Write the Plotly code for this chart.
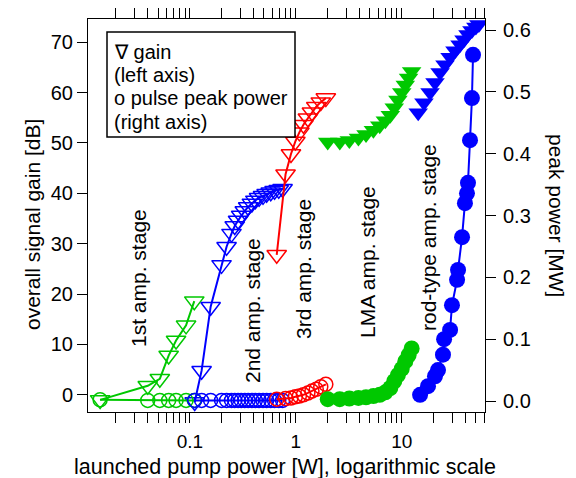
import plotly.graph_objects as go

# ---------------- data ----------------
GREEN = "#00c800"
BLUE = "#0000ff"
RED = "#ff0000"

# 1st amplifier stage (pump W, gain dB, peak power MW)
s1_pump = [0.0142, 0.040, 0.052, 0.063, 0.074, 0.092, 0.110]
s1_gain = [-1.0, 1.8, 3.2, 7.8, 10.8, 13.8, 18.6]
s1_peak = [0.002, 0.001, 0.001, 0.001, 0.001, 0.001, 0.001]

# 2nd amplifier stage
s2_pump = [0.111, 0.129, 0.157, 0.199, 0.222, 0.247, 0.265, 0.285, 0.305, 0.330,
           0.355, 0.385, 0.415, 0.450, 0.490, 0.530, 0.580, 0.630, 0.690, 0.750]
s2_gain = [-1.4, 4.8, 17.5, 25.8, 29.4, 32.0, 33.5, 34.6, 35.6, 36.5,
           37.3, 38.0, 38.6, 39.1, 39.5, 39.9, 40.2, 40.5, 40.7, 40.9]
s2_peak = [0.001, 0.001, 0.001, 0.001, 0.001, 0.001, 0.001, 0.001, 0.001, 0.001,
           0.001, 0.001, 0.001, 0.001, 0.001, 0.001, 0.001, 0.001, 0.001, 0.001]

# 3rd amplifier stage
s3_pump = [0.66, 0.80, 0.90, 0.99, 1.08, 1.18, 1.30, 1.42, 1.56, 1.72, 1.92]
s3_gain = [27.8, 43.8, 47.8, 50.3, 52.1, 53.6, 54.9, 56.1, 57.2, 58.1, 58.9]
s3_peak = [0.003, 0.004, 0.005, 0.007, 0.008, 0.010, 0.013, 0.016, 0.019, 0.023, 0.027]

# LMA amplifier stage
lma_pump = [2.0, 2.6, 3.2, 3.9, 4.6, 5.4, 6.2, 7.0, 7.8, 8.5, 9.2, 10.0, 10.8, 11.6, 12.4]
lma_gain = [50.2, 50.2, 50.5, 51.0, 51.7, 52.5, 53.4, 54.4, 55.5, 57.0, 58.5, 60.0, 61.5, 62.9, 64.2]
lma_peak = [0.003, 0.003, 0.004, 0.005, 0.006, 0.008, 0.010, 0.014, 0.021, 0.032, 0.042, 0.052,
            0.064, 0.074, 0.085]

# rod-type amplifier stage
rod_gain_pump = [14.3, 16.2, 18.5, 20.6, 23.0, 25.6, 28.6, 31.8, 35.5, 38.7, 42.2, 46.0, 50.1, 53.5]
rod_gain = [56.0, 58.0, 60.0, 62.0, 64.0, 65.5, 67.0, 68.3, 69.5, 70.5, 71.5, 72.3, 73.0, 73.5]
rod_peak_pump = [14.9, 17.7, 20.6, 22.0, 24.5, 25.1, 28.6, 29.8, 33.3, 34.0, 37.1, 39.5,
                 41.3, 42.2, 44.1, 46.0, 47.1]
rod_peak = [0.010, 0.024, 0.040, 0.050, 0.075, 0.100, 0.115, 0.155, 0.196, 0.212, 0.265, 0.320,
            0.336, 0.353, 0.422, 0.490, 0.560]

x_ticks = [0.1, 1, 10]
x_ticklabels = ["0.1", "1", "10"]
x_minor = [0.02, 0.03, 0.04, 0.05, 0.06, 0.07, 0.08, 0.09,
           0.2, 0.3, 0.4, 0.5, 0.6, 0.7, 0.8, 0.9,
           2, 3, 4, 5, 6, 7, 8, 9, 20, 30, 40, 50, 60]
gain_ticks = [0, 10, 20, 30, 40, 50, 60, 70]
peak_ticks = [0.0, 0.1, 0.2, 0.3, 0.4, 0.5, 0.6]

# ---------------- figure ----------------
FONT = "Liberation Sans, Arial, sans-serif"
TRI = 17
CIR = 14
CIRF = 16

fig = go.Figure()


def open_pair(px, gain, peak, color):
    fig.add_trace(go.Scatter(x=px, y=peak, yaxis="y2", mode="lines+markers",
                             line=dict(color=color, width=2),
                             marker=dict(symbol="circle-open", size=CIR, color=color,
                                         line=dict(width=1.5, color=color))))
    fig.add_trace(go.Scatter(x=px, y=gain, mode="lines+markers",
                             line=dict(color=color, width=2),
                             marker=dict(symbol="triangle-down-open", size=TRI, color=color,
                                         line=dict(width=1.5, color=color))))


open_pair(s1_pump, s1_gain, s1_peak, GREEN)
open_pair(s2_pump, s2_gain, s2_peak, BLUE)
open_pair(s3_pump, s3_gain, s3_peak, RED)

fig.add_trace(go.Scatter(x=lma_pump, y=lma_peak, yaxis="y2", mode="lines+markers",
                         line=dict(color=GREEN, width=2),
                         marker=dict(symbol="circle", size=CIRF, color=GREEN)))
fig.add_trace(go.Scatter(x=lma_pump, y=lma_gain, mode="markers",
                         marker=dict(symbol="triangle-down", size=TRI, color=GREEN)))
fig.add_trace(go.Scatter(x=rod_gain_pump, y=rod_gain, mode="markers",
                         marker=dict(symbol="triangle-down", size=TRI, color=BLUE)))
fig.add_trace(go.Scatter(x=rod_peak_pump, y=rod_peak, yaxis="y2", mode="lines+markers",
                         line=dict(color=BLUE, width=2),
                         marker=dict(symbol="circle", size=CIRF, color=BLUE)))

axis_common = dict(showline=True, linecolor="black", linewidth=1, showgrid=False,
                   zeroline=False, ticks="outside", tickcolor="black", ticklen=10,
                   tickwidth=1, automargin=False)
tick_font = dict(family=FONT, size=20, color="black")

# the page body adds an 8px offset, so the figure is drawn 8px smaller and shifted
fig.update_layout(
    width=568, height=470,
    margin=dict(l=80, r=91, t=11, b=66, autoexpand=False),
    paper_bgcolor="white", plot_bgcolor="white",
    showlegend=False,
    font=dict(family=FONT, size=20, color="black"),
    xaxis=dict(type="log", range=[-1.962, 1.786], tickvals=x_ticks, ticktext=x_ticklabels,
               mirror="allticks", ticklabelstandoff=2,
               tickfont=dict(family=FONT, size=19, color="black"),
               minor=dict(tickvals=x_minor, ticks="outside", ticklen=6, tickcolor="black",
                          tickwidth=1, showgrid=False),
               **axis_common),
    yaxis=dict(range=[-3.4, 74.6], tickvals=gain_ticks, tickfont=tick_font, **axis_common),
    yaxis2=dict(range=[-0.0178, 0.618], tickvals=peak_ticks, tickformat=".1f",
                overlaying="y", side="right", ticklabelstandoff=3, tickfont=tick_font,
                **axis_common),
)


def px2paper(px, py):
    return (px - 88) / 397, (412 - py) / 393


annots = []

def text_at(px, py, text, angle=0, size=21, xanchor="center"):
    xp, yp = px2paper(px, py)
    annots.append(dict(x=xp, y=yp, xref="paper", yref="paper", text=text, showarrow=False,
                       textangle=angle, xanchor=xanchor, yanchor="middle",
                       font=dict(family=FONT, size=size, color="black")))

# axis titles
text_at(285, 467, "launched pump power [W], logarithmic scale", size=21.5)
text_at(32, 225, "overall signal gain [dB]", angle=-90)
text_at(557, 215, "peak power [MW]", angle=90)

# stage labels
text_at(138, 278, "1st amp. stage", angle=-90)
text_at(252, 311, "2nd amp. stage", angle=-90)
text_at(303, 269, "3rd amp. stage", angle=-90)
text_at(367, 262, "LMA amp. stage", angle=-90)
text_at(429, 238, "rod-type amp. stage", angle=-90)

# legend box text
text_at(112, 52, "∇ gain", size=20, xanchor="left")
text_at(112, 75, "(left axis)", size=20, xanchor="left")
text_at(112, 98, "o pulse peak power", size=20, xanchor="left")
text_at(112, 122, "(right axis)", size=20, xanchor="left")

fig.update_layout(annotations=annots)

bx0, by0 = px2paper(107, 137)
bx1, by1 = px2paper(295, 32)
fig.add_shape(type="rect", xref="paper", yref="paper", x0=bx0, y0=by0, x1=bx1, y1=by1,
              line=dict(color="black", width=1.5), fillcolor="white", layer="above")

fig.write_html("out.html")
